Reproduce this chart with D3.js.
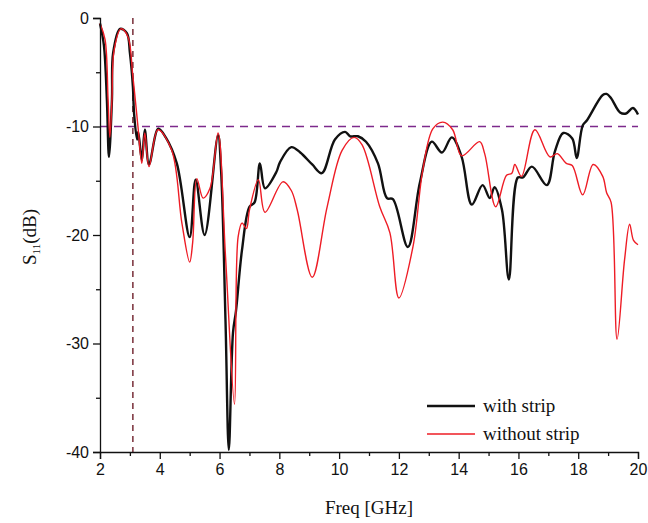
<!DOCTYPE html>
<html><head><meta charset="utf-8">
<script src="https://cdn.jsdelivr.net/npm/d3@7"></script>
<style>body{margin:0;background:#fff}svg{display:block}</style>
</head><body>
<script>
const xTicks = [2,4,6,8,10,12,14,16,18,20];
const yTicks = [0,-10,-20,-30,-40];
const seriesNames = ["with strip","without strip"];
const withFreq = [2.0,2.13,2.23,2.3,2.4,2.44,2.67,2.9,3.0,3.1,3.14,3.24,3.28,3.4,3.5,3.64,3.95,4.2,4.57,5.0,5.2,5.5,5.95,6.05,6.2,6.31,6.45,6.55,6.75,7.0,7.17,7.35,7.52,7.9,8.02,8.4,8.7,9.1,9.42,9.86,10.2,10.37,10.63,10.9,11.3,11.6,11.8,12.3,12.7,13.1,13.44,13.77,14.1,14.44,14.8,15.04,15.2,15.45,15.68,15.98,16.15,16.45,16.95,17.22,17.5,17.8,17.95,18.15,18.3,18.82,18.95,19.1,19.4,19.6,19.83,20.0];
const withDB = [-0.5,-2.5,-7.5,-12.8,-7.5,-3.2,-1.0,-1.4,-3.2,-6.3,-8.8,-11.2,-10.5,-13.1,-10.3,-13.5,-10.2,-11.0,-13.4,-20.2,-14.9,-20.0,-10.8,-14,-28,-39.8,-29,-27,-21.4,-17.4,-17,-13.4,-15.7,-14.2,-13.3,-11.9,-12.4,-13.5,-14.3,-11.2,-10.5,-10.9,-10.9,-11.4,-13.4,-16.6,-16.7,-21.1,-15.2,-11.4,-12.4,-11.0,-12.8,-17.2,-15.4,-16.6,-15.6,-17.7,-24.1,-14.7,-14.7,-13.7,-15.4,-12.3,-10.6,-11.1,-12.9,-9.9,-9.4,-7.1,-7.0,-7.4,-8.7,-8.8,-8.3,-8.9];
const withoutFreq = [2.0,2.17,2.27,2.33,2.4,2.47,2.7,2.93,3.1,3.27,3.4,3.5,3.64,3.94,4.4,4.74,5.0,5.1,5.24,5.45,5.68,5.95,6.2,6.5,6.62,6.75,6.9,7.0,7.3,7.52,8.12,8.4,8.6,9.1,9.6,10.1,10.5,10.77,11.36,11.7,12.0,12.47,12.8,13.14,13.47,13.8,14.1,14.7,14.87,15.24,15.6,15.78,15.88,16.1,16.55,17.05,17.3,17.6,17.8,18.15,18.5,18.82,18.95,19.1,19.3,19.55,19.72,19.85,20.0];
const withoutDB = [-0.5,-2.0,-7.5,-11.0,-7.5,-3.0,-1.0,-1.7,-5.4,-10.0,-13.4,-10.6,-13.7,-10.3,-12.2,-18.9,-22.5,-20.7,-14.8,-16.6,-15.7,-10.6,-22,-35.6,-20.2,-18.9,-19.4,-17.7,-14.9,-17.9,-15.1,-15.9,-17.7,-23.9,-17.4,-12.2,-11.0,-11.7,-17.4,-19.8,-25.8,-21.1,-14.0,-10.2,-9.6,-10.3,-12.7,-11.4,-12.5,-17.4,-14.5,-14.3,-13.5,-14.6,-10.3,-12.8,-12.5,-13.4,-13.6,-16.3,-13.5,-14.6,-16.1,-17.0,-29.6,-22.3,-19.0,-20.5,-20.9];
const refLevel = -10;
const refFreq = 3.1;

const W = 648, H = 523;
const svg = d3.select("body").append("svg").attr("width",W).attr("height",H);
const x = d3.scaleLinear().domain([2,20]).range([100,638]);
const y = d3.scaleLinear().domain([-40,0]).range([452,18]);

const sans = "Liberation Sans, Arial, sans-serif";
const serif = "Liberation Serif, Times New Roman, serif";

// reference lines
svg.append("line").attr("x1",x(2)).attr("x2",x(20)).attr("y1",y(refLevel)).attr("y2",y(refLevel))
  .attr("stroke","#7d2a8c").attr("stroke-width",1.4).attr("stroke-dasharray","8,6");
svg.append("line").attr("x1",x(refFreq)).attr("x2",x(refFreq)).attr("y1",y(0)).attr("y2",y(-40))
  .attr("stroke","#6e1f2a").attr("stroke-width",1.4).attr("stroke-dasharray","6,5");

const line = d3.line().x(d=>x(d[0])).y(d=>y(d[1])).curve(d3.curveCatmullRom.alpha(0.5));
const redData = withoutFreq.map((f,i)=>[f,withoutDB[i]]);
const blackData = withFreq.map((f,i)=>[f,withDB[i]]);
svg.append("path").datum(blackData).attr("d",line).attr("fill","none").attr("stroke","#111").attr("stroke-width",2.4).attr("stroke-linejoin","round");
svg.append("path").datum(redData).attr("d",line).attr("fill","none").attr("stroke","#ee1c25").attr("stroke-width",1.4).attr("stroke-linejoin","round");

// axes
const fmt = d => String(d);
const xAxis = d3.axisBottom(x).tickValues(xTicks).tickSize(7).tickPadding(5).tickFormat(fmt);
const xMinor = d3.axisBottom(x).tickValues(d3.range(3,20,2)).tickSize(4).tickFormat("");
svg.append("g").attr("transform","translate(0,452)").call(xAxis);
svg.append("g").attr("transform","translate(0,452)").call(xMinor).select(".domain").remove();
const yAxis = d3.axisLeft(y).tickValues(yTicks).tickSize(7).tickPadding(4).tickFormat(fmt);
const yMinor = d3.axisLeft(y).tickValues([-5,-15,-25,-35]).tickSize(4).tickFormat("");
svg.append("g").attr("transform","translate(100,0)").call(yAxis);
svg.append("g").attr("transform","translate(100,0)").call(yMinor).select(".domain").remove();
svg.selectAll(".domain").attr("stroke","#111").attr("stroke-width",1.3);
svg.selectAll(".tick line").attr("stroke","#111").attr("stroke-width",1.3);
svg.selectAll(".tick text").attr("font-family",sans).attr("font-size",16).attr("fill","#111");

// axis titles
svg.append("text").attr("x",369).attr("y",514).attr("text-anchor","middle")
  .attr("font-family",serif).attr("font-size",19).attr("fill","#111").text("Freq [GHz]");
const yl = svg.append("text").attr("transform","translate(36,237) rotate(-90)").attr("text-anchor","middle")
  .attr("font-family",serif).attr("font-size",19).attr("fill","#111");
yl.append("tspan").text("S");
yl.append("tspan").attr("font-size",11).attr("dy",4).text("11");
yl.append("tspan").attr("dy",-4).text("(dB)");

// legend
const leg = [{c:"#111",w:2.4},{c:"#ee1c25",w:1.4}];
seriesNames.forEach((n,i)=>{
  const ly = 406 + i*28;
  svg.append("line").attr("x1",427).attr("x2",475).attr("y1",ly).attr("y2",ly).attr("stroke",leg[i].c).attr("stroke-width",leg[i].w);
  svg.append("text").attr("x",483).attr("y",ly+6).attr("font-family",serif).attr("font-size",19).attr("fill","#111").text(n);
});
</script>
</body></html>
